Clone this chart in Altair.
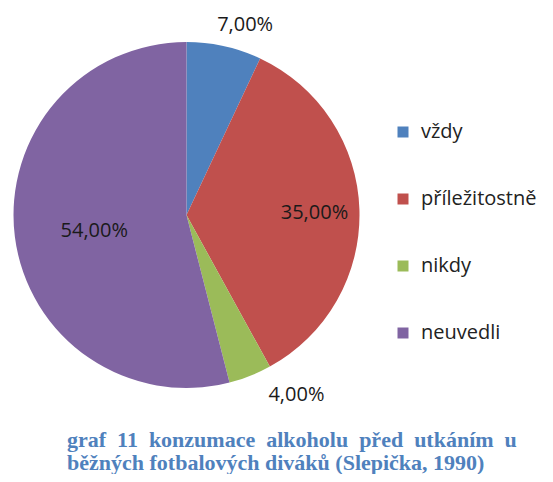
import altair as alt
import pandas as pd

categories = ["vždy", "příležitostně", "nikdy", "neuvedli"]
values = [7.0, 35.0, 4.0, 54.0]
colors = ["#4F81BD", "#C0504D", "#9BBB59", "#8064A2"]
caption_line1 = ["graf", "11", "konzumace", "alkoholu", "před", "utkáním", "u"]
caption_line2 = "běžných fotbalových diváků (Slepička, 1990)"

labels = [f"{v:.2f}%".replace(".", ",") for v in values]
df = pd.DataFrame({"cat": categories, "val": values, "label": labels,
                   "idx": list(range(len(categories)))})

CX, CY, R = 178.5, 207, 173
TXT = "Open Sans"
FS = 20

pie = alt.Chart(df).mark_arc(radius=R, stroke=None).encode(
    theta=alt.Theta("val:Q", stack=True),
    order=alt.Order("idx:Q"),
    x=alt.value(CX), y=alt.value(CY),
    color=alt.Color("cat:N",
                    scale=alt.Scale(domain=categories, range=colors),
                    sort=categories,
                    legend=alt.Legend(title=None, orient="none",
                                      legendX=385, legendY=114,
                                      symbolType="square", symbolSize=121,
                                      symbolStrokeWidth=0,
                                      labelFont=TXT, labelFontSize=FS,
                                      labelColor="#222222", labelOffset=8,
                                      rowPadding=47)),
)

# (label radius, dx, dy) per slice
label_pos = {
    "vždy": (200, 15, 5),
    "příležitostně": (128, 0, 2),
    "nikdy": (209, 33, -14),
    "neuvedli": (93, 0, 4),
}

label_layers = []
for c in categories:
    r, dx, dy = label_pos[c]
    label_layers.append(
        alt.Chart(df)
        .transform_window(cum="sum(val)", sort=[alt.SortField("idx")])
        .transform_calculate(mid="datum.cum - datum.val / 2")
        .transform_filter(alt.datum.cat == c)
        .mark_text(radius=r, dx=dx, dy=dy, font=TXT, fontSize=FS,
                   color="#1a1a1a", align="center", baseline="middle")
        .encode(
            theta=alt.Theta("mid:Q", scale=alt.Scale(domain=[0, 100], range=[0, 6.283185307])),
            x=alt.value(CX), y=alt.value(CY), text="label:N")
    )

cap_style = dict(font="Liberation Serif", fontWeight="bold", fontSize=22,
                 color="#4F81BD", align="left", baseline="alphabetic")

cap1 = alt.Chart(pd.DataFrame({"t": ["\u2002".join(caption_line1)]})).mark_text(
    **cap_style).encode(x=alt.value(59), y=alt.value(439), text="t")
cap2 = alt.Chart(pd.DataFrame({"t": [caption_line2]})).mark_text(
    **cap_style).encode(x=alt.value(59), y=alt.value(462), text="t")

chart = alt.layer(pie, *label_layers, cap1, cap2).properties(
    width=537, height=466, autosize=alt.AutoSizeParams(type="none"), padding=0
).resolve_scale(theta="independent").configure_view(stroke=None)

chart.save("out.html", embed_options={"renderer": "svg", "actions": False})
